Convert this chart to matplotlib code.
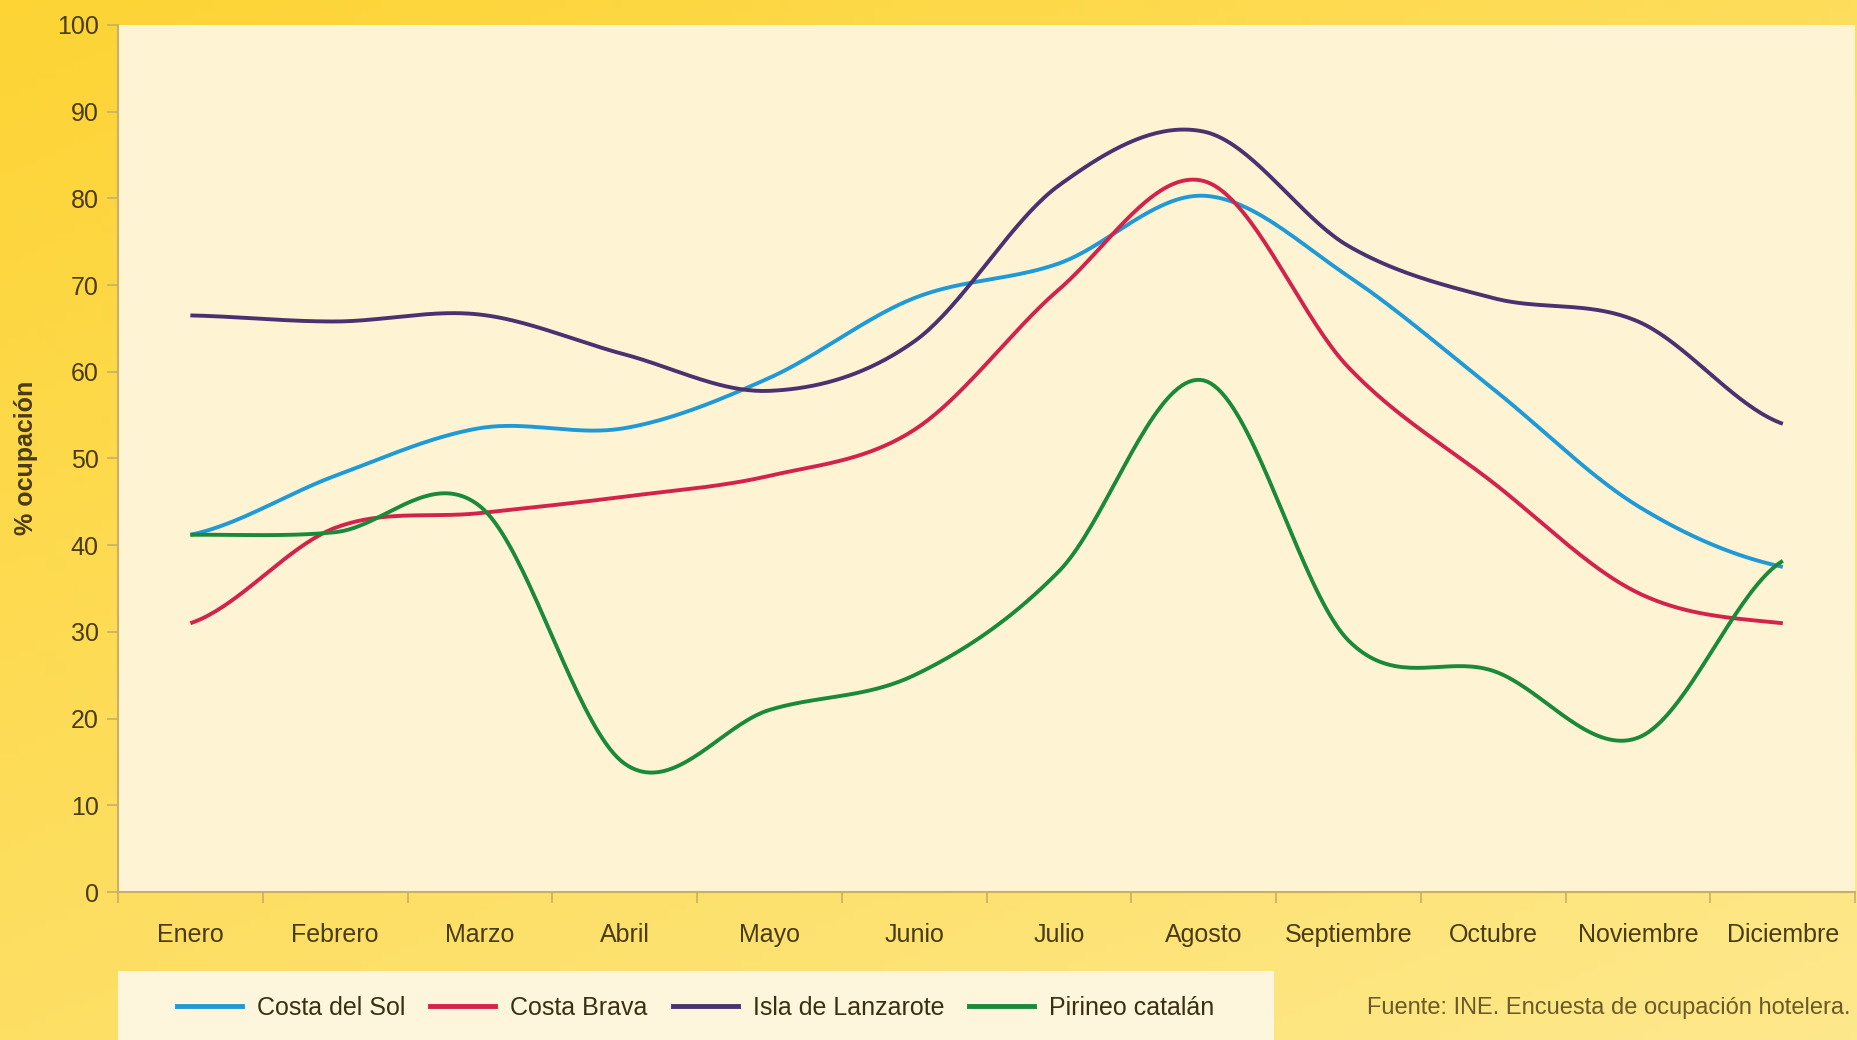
import numpy as np
import matplotlib
matplotlib.use("Agg")
from matplotlib import pyplot as plt
from matplotlib.patches import Rectangle
from matplotlib.lines import Line2D

plt.rcParams['font.family'] = ['Liberation Sans', 'DejaVu Sans']

meses = ['Enero', 'Febrero', 'Marzo', 'Abril', 'Mayo', 'Junio', 'Julio',
         'Agosto', 'Septiembre', 'Octubre', 'Noviembre', 'Diciembre']

costa_sol = [41.2, 48.0, 53.5, 53.5, 59.3, 68.5, 72.5, 80.3, 71.0, 58.0, 44.5, 37.5]
costa_brava = [31.0, 42.0, 43.7, 45.6, 48.0, 53.3, 69.5, 82.0, 60.5, 47.2, 34.5, 31.0]
lanzarote = [66.5, 65.8, 66.6, 62.0, 57.8, 63.5, 81.5, 87.7, 74.5, 68.5, 65.8, 54.0]
pirineo = [41.2, 41.5, 44.5, 14.8, 21.0, 25.0, 37.0, 59.0, 29.0, 25.5, 17.8, 38.2]

series = [('Costa del Sol', costa_sol, '#1f9ad6'),
          ('Costa Brava', costa_brava, '#d3234b'),
          ('Isla de Lanzarote', lanzarote, '#4a3270'),
          ('Pirineo catalán', pirineo, '#1a8a3a')]

txt = '#4a3b10'


def suave(y, n=40):
    # curva tipo Excel (Catmull-Rom) que pasa por los puntos
    y = np.asarray(y, float)
    p = np.concatenate([[y[0]], y, [y[-1]]])
    xs, ys = [], []
    for i in range(len(y) - 1):
        p0, p1, p2, p3 = p[i], p[i + 1], p[i + 2], p[i + 3]
        t = np.linspace(0, 1, n, endpoint=False)
        c1 = p1 + (p2 - p0) / 6
        c2 = p2 - (p3 - p1) / 6
        yy = (1 - t) ** 3 * p1 + 3 * (1 - t) ** 2 * t * c1 + 3 * (1 - t) * t ** 2 * c2 + t ** 3 * p2
        xs.append(i + t)
        ys.append(yy)
    xs.append([len(y) - 1])
    ys.append([y[-1]])
    return np.concatenate(xs), np.concatenate(ys)


fig = plt.figure(figsize=(18.58, 10.40), dpi=100)

# fondo amarillo degradado
bg = fig.add_axes([0, 0, 1, 1], zorder=-10)
gx, gy = np.meshgrid(np.linspace(0, 1, 200), np.linspace(0, 1, 120))
g = 0.55 * gy + 0.45 * gx
c1 = np.array([253, 212, 52]) / 255
c2 = np.array([253, 232, 140]) / 255
img = c1[None, None, :] * (1 - g[..., None]) + c2[None, None, :] * g[..., None]
bg.imshow(img, aspect='auto', extent=[0, 1, 0, 1], origin='upper')
bg.set_axis_off()

ax = fig.add_axes([0.0635, 0.1423, 0.935, 0.8337])
ax.set_facecolor('#fef4d3')

for nombre, vals, col in series:
    xs, ys = suave(vals)
    ax.plot(xs, ys, color=col, lw=2.8, solid_capstyle='butt')

ax.set_xlim(-0.5, 11.5)
ax.set_ylim(0, 100)
ax.set_yticks(range(0, 101, 10))
ax.set_yticklabels([str(v) for v in range(0, 101, 10)], fontsize=18, color=txt)
ax.set_xticks(np.arange(-0.5, 12, 1))
ax.set_xticklabels([])
ax.set_xticks(range(12), minor=True)
ax.set_xticklabels(meses, minor=True, fontsize=18, color=txt)
ax.tick_params(axis='x', which='minor', length=0, pad=22)
ax.tick_params(axis='x', which='major', length=8, color='#c9b066', width=1.2)
ax.tick_params(axis='y', length=8, color='#c9b066', width=1.2, pad=6)
for s in ['top', 'right']:
    ax.spines[s].set_visible(False)
for s in ['left', 'bottom']:
    ax.spines[s].set_color('#c9b066')
    ax.spines[s].set_linewidth(1.5)

fig.text(0.014, 0.56, '% ocupación', rotation=90, fontsize=18, fontweight='bold',
         color=txt, ha='center', va='center')

# caja de la leyenda
fig.add_artist(Rectangle((0.0635, 0.0), 0.622, 0.066, transform=fig.transFigure,
                         facecolor='#fef6dc', edgecolor='none', zorder=1))
handles = [Line2D([0], [0], color=c, lw=3.5) for _, _, c in series]
leg = fig.legend(handles, [n for n, _, _ in series], loc='center',
                 bbox_to_anchor=(0.3745, 0.031), ncol=4, frameon=False,
                 fontsize=18, handlelength=2.6, columnspacing=1.0, handletextpad=0.6)
for t in leg.get_texts():
    t.set_color('#3a2f10')

fig.text(0.996, 0.031, 'Fuente: INE. Encuesta de ocupación hotelera.', fontsize=17,
         color='#6b5a28', ha='right', va='center')

fig.savefig('out.png', dpi=100)
